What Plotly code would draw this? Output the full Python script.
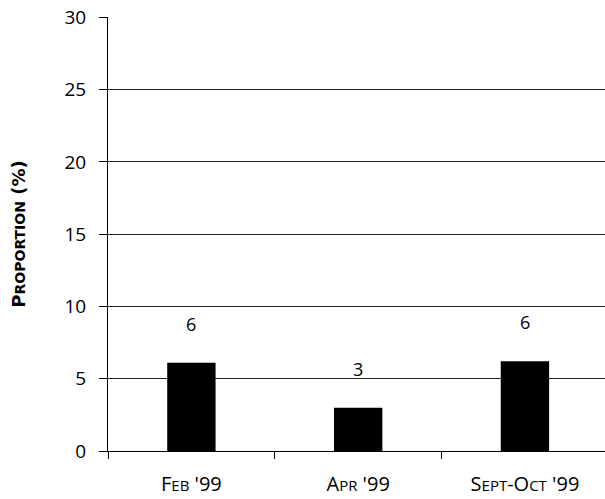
import plotly.graph_objects as go

categories = ["Feb '99", "Apr '99", "Sept-Oct '99"]
category_labels = [
    "F<span style='font-size:15px'>EB</span> '99",
    "A<span style='font-size:15px'>PR</span> '99",
    "S<span style='font-size:15px'>EPT</span>-O<span style='font-size:15px'>CT</span> '99",
]
values = [6.1, 3.0, 6.2]
value_labels = ["6", "3", "6"]
y_ticks = [0, 5, 10, 15, 20, 25, 30]

FONT = "Open Sans"

fig = go.Figure()
fig.add_trace(go.Bar(
    x=categories, y=values, width=0.29,
    marker=dict(color="black", line=dict(width=0)),
    hoverinfo="skip",
))

for c, v, t in zip(categories, values, value_labels):
    fig.add_annotation(x=c, y=v, text=t, showarrow=False, yshift=39,
                       yanchor="middle", font=dict(family=FONT, size=18, color="black"))

fig.update_layout(
    width=605, height=499,
    margin=dict(l=108, r=0, t=17, b=48),
    plot_bgcolor="white", paper_bgcolor="white",
    showlegend=False,
    font=dict(family=FONT, color="black"),
    xaxis=dict(
        range=[-0.5, 2.48],
        tickmode="array", tickvals=categories, ticktext=category_labels,
        tickson="boundaries", ticks="outside", ticklen=7, tickcolor="black", tickwidth=1,
        showline=True, linecolor="black", linewidth=1,
        showgrid=False, zeroline=False,
        tickfont=dict(family=FONT, size=20, color="black"),
        ticklabelstandoff=15,
        automargin=False,
        fixedrange=True,
    ),
    yaxis=dict(
        range=[0, 30.02],
        tickmode="array", tickvals=y_ticks,
        ticks="outside", ticklen=8, tickcolor="black", tickwidth=1,
        showline=True, linecolor="black", linewidth=1,
        showgrid=True, gridcolor="#222", gridwidth=1,
        zeroline=False,
        tickfont=dict(family=FONT, size=19, color="black"),
        ticklabelstandoff=9,
        ticklabeloverflow="allow",
        automargin=False,
        title=dict(
            text="<b>P<span style='font-size:14px'>ROPORTION</span> (%)</b>",
            font=dict(family="DejaVu Sans", size=18, color="black"),
            standoff=34,
        ),
        fixedrange=True,
    ),
)

# remove the page's default body margin so the figure fills the window exactly
fig.write_html("out.html", config={"displayModeBar": False},
               post_script="document.body.style.margin='0';")
